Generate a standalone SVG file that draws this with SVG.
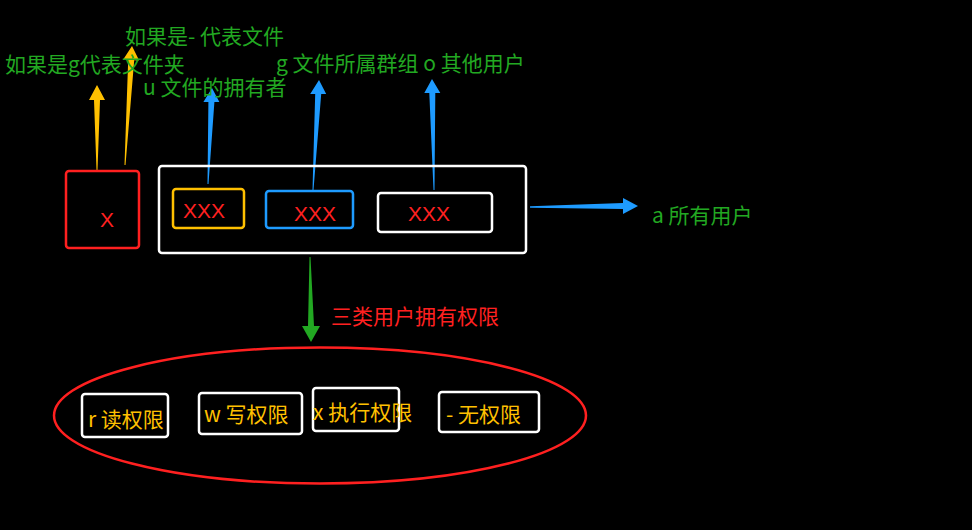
<svg xmlns="http://www.w3.org/2000/svg" width="972" height="530" viewBox="0 0 972 530">
<style>
text{font-family:"Noto Sans CJK SC","Noto Sans",sans-serif;font-size:21px}
text.x{font-family:"Liberation Sans",Arial,sans-serif;font-size:21px}
.g{fill:#22A822}
.r{fill:#FF2020}
.y{fill:#FFC000}
.box{fill:none;stroke-width:2.5}
.w{stroke:#FFFFFF}
.ya{fill:#FFC000}
.bl{fill:#1E9BFF}
.gr{fill:#22A822}
</style>
<rect x="0" y="0" width="972" height="530" fill="#000000"/>
<g id="connectors">
<polygon class="ya" points="96.5,170 94,100 89,100 97,85 105,100 100,100 97.5,170"/>
<polygon class="ya" points="124.5,165 128.2,59.8 123.2,59.5 132,46 139.2,60.4 134.2,60.2 125.5,165"/>
<polygon class="bl" points="207.5,184 208.4,102 203.4,102 212,88 219.4,102 214.4,102 208.5,184"/>
<polygon class="bl" points="312.5,190 315.2,94 310.2,94 319,80 326.2,94 321.2,94 313.5,190"/>
<polygon class="bl" points="433.5,190 429.3,93 424.3,93 432,79 440.3,93 435.3,93 434.5,190"/>
<polygon class="bl" points="530,206.3 623,203 623,198 638,206 623,214 623,209 530,207.7"/>
<polygon class="gr" points="309.5,257 308,326 302,326 311,342 320,326 314,326 310.5,257"/>
</g>
<g id="label-dir"><text class="g" x="5" y="72">如果是g代表文件夹</text></g>
<g id="label-file"><text class="g" x="125" y="44">如果是- 代表文件</text></g>
<g id="label-u"><text class="g" x="143" y="95">u 文件的拥有者</text></g>
<g id="label-g-o"><text class="g" x="276" y="71">g 文件所属群组 o 其他用户</text></g>
<g id="label-a"><text class="g" x="652" y="223">a 所有用户</text></g>
<g id="label-three"><text class="r" x="331" y="324">三类用户拥有权限</text></g>
<g id="type-box">
<rect class="box" x="66" y="171" width="73" height="77" rx="3" stroke="#FF2020"/>
<text class="r x" x="100" y="227">X</text>
</g>
<g id="perm-group">
<rect class="box w" x="159" y="166" width="367" height="87" rx="3"/>
</g>
<g id="owner-box">
<rect class="box" x="173" y="189" width="71" height="39" rx="3" stroke="#FFC000"/>
<text class="r x" x="183" y="218">XXX</text>
</g>
<g id="group-box">
<rect class="box" x="266" y="191" width="87" height="37" rx="3" stroke="#1E9BFF"/>
<text class="r x" x="294" y="221">XXX</text>
</g>
<g id="other-box">
<rect class="box w" x="378" y="193" width="114" height="39" rx="3"/>
<text class="r x" x="408" y="221">XXX</text>
</g>
<g id="perm-ellipse">
<ellipse cx="320" cy="415.5" rx="266" ry="68" fill="none" stroke="#FF2020" stroke-width="2.5"/>
</g>
<g id="perm-r">
<rect class="box w" x="82" y="394" width="86" height="43" rx="3"/>
<text class="y" x="88" y="427">r 读权限</text>
</g>
<g id="perm-w">
<rect class="box w" x="199" y="393" width="103" height="41" rx="3"/>
<text class="y" x="204" y="422">w 写权限</text>
</g>
<g id="perm-x">
<rect class="box w" x="313" y="388" width="86" height="43" rx="3"/>
<text class="y" x="313" y="420">x 执行权限</text>
</g>
<g id="perm-none">
<rect class="box w" x="439" y="392" width="100" height="40" rx="3"/>
<text class="y" x="446" y="422">- 无权限</text>
</g>
</svg>
